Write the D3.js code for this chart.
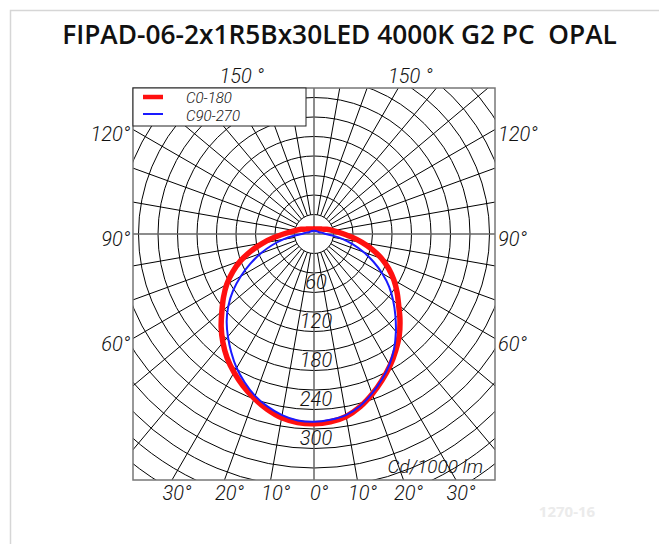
<!DOCTYPE html>
<html><head><meta charset="utf-8">
<script src="https://cdn.jsdelivr.net/npm/d3@7/dist/d3.min.js"></script>
<style>
body{margin:0;background:#fff}
svg{display:block}
.cad{font-family:Roboto,"DejaVu Sans",sans-serif;font-style:italic;font-weight:300;fill:#111}
</style>
</head><body><svg id="c" width="659" height="544"></svg>
<script>
const title = "FIPAD-06-2x1R5Bx30LED 4000K G2 PC  OPAL";
const watermark = "1270-16";
const seriesNames = ["C0-180", "C90-270"];
const unitLabel = "Cd/1000 lm";
// angles from nadir (degrees)
const angles = [0,5,10,15,20,25,30,35,40,45,50,55,60,65,70,75,80,85,90,100,110,120,130,140,150,160,170,180];
const c0Left   = [292,291,287,279,269,258,246,233,218,202,185,170,155,138,120,100,80,62,47,30,21,15,12,10,9,8,8,8];
const c0Right  = [292,290,285,275,262,248,234,219,204,187,170,156,142,127,111,93,75,59,46,30,21,15,12,10,9,8,8,8];
const c90Left  = [289,288,283,275,265,252,238,222,206,190,172,152,130,108,87,67,48,31,19,12,8,7,6,6,5,5,5,5];
const c90Right = [289,287,283,274,261,247,232,215,196,177,159,141,121,101,81,62,45,29,18,12,8,7,6,6,5,5,5,5];
const ringValues = [30,60,90,120,150,180,210,240,270,300,330,360,390,420,450,480];
const ringLabels = [60,120,180,240,300];
const spokeAngles = [0,10,20,30,40,50,60,70,80,90,100,110,120,130,140,150,160,170,180,190,200,210,220,230,240,250,260,270,280,290,300,310,320,330,340,350];
const sideAngleLabels = [60,90,120];
const topAngleLabels = [150];
const bottomAngleLabels = [-30,-20,-10,0,10,20,30];

const svg = d3.select("#c");
const cx = 314, cy = 234;
const box = {x0:133, x1:495, y0:88, y1:480};

// card frame
svg.append("rect").attr("x",10.5).attr("y",10.5).attr("width",700).attr("height",600)
  .attr("fill","none").attr("stroke","#d6d6d6").attr("stroke-width",1.5);

// title
const t = svg.append("text").attr("x",339.5).attr("y",44).attr("text-anchor","middle")
  .style("white-space","pre").attr("font-family","'Open Sans',Lato,sans-serif")
  .attr("font-weight",600).attr("font-size",22).attr("fill","#111").text(title);
const tl = t.node().getComputedTextLength();
t.attr("font-size", 22*555/tl);

const r = d3.scaleLinear().domain([0,30]).range([0,19.5]);

const defs = svg.append("defs");
defs.append("clipPath").attr("id","bx").append("rect")
  .attr("x",box.x0).attr("y",box.y0).attr("width",box.x1-box.x0).attr("height",box.y1-box.y0);

const g = svg.append("g").attr("clip-path","url(#bx)");
const p = g.append("g").attr("transform",`translate(${cx},${cy})`);

// rings
p.selectAll("circle.ring").data(ringValues).join("circle").attr("class","ring")
  .attr("r", d=>r(d)).attr("fill","none").attr("stroke","#000").attr("stroke-width",1);

// spokes (angle measured from nadir, screen)
const rad = d=>d*Math.PI/180;
p.selectAll("line.spoke").data(spokeAngles.filter(a=>a%90!==0)).join("line").attr("class","spoke")
  .attr("x1", a=>r(30)*Math.sin(rad(a))).attr("y1", a=>r(30)*Math.cos(rad(a)))
  .attr("x2", a=>r(600)*Math.sin(rad(a))).attr("y2", a=>r(600)*Math.cos(rad(a)))
  .attr("stroke","#000").attr("stroke-width",1);
// main axes
p.append("line").attr("x1",-400).attr("x2",400).attr("y1",0).attr("y2",0).attr("stroke","#666").attr("stroke-width",1.5);
p.append("line").attr("y1",-400).attr("y2",400).attr("x1",0).attr("x2",0).attr("stroke","#666").attr("stroke-width",1.5);

// curves
function pts(left, right){
  const out = [];
  for(let i=angles.length-1;i>=0;i--) out.push([Math.PI - rad(angles[i]), r(right[i])]);
  for(let i=1;i<angles.length-1;i++) out.push([Math.PI + rad(angles[i]), r(left[i])]);
  return out;
}
const line = d3.lineRadial().curve(d3.curveCatmullRomClosed.alpha(0.5));
p.append("path").attr("d", line(pts(c0Left,c0Right))).attr("fill","none")
  .attr("stroke","#ff1010").attr("stroke-width",5.5).attr("stroke-linejoin","round");
p.append("path").attr("d", line(pts(c90Left,c90Right))).attr("fill","none")
  .attr("stroke","#1a1aff").attr("stroke-width",2);

// ring value labels
p.selectAll("text.rl").data(ringLabels).join("text").attr("class","cad rl")
  .attr("x",2).attr("y",d=>r(d)+16).attr("text-anchor","middle").attr("font-size",20).text(d=>d);

// unit label
svg.append("text").attr("class","cad").attr("x",483).attr("y",473).attr("text-anchor","end")
  .attr("font-size",19).text(unitLabel);

// box border
svg.append("rect").attr("x",box.x0).attr("y",box.y0).attr("width",box.x1-box.x0).attr("height",box.y1-box.y0)
  .attr("fill","none").attr("stroke","#777").attr("stroke-width",1.5);

// legend
const lg = svg.append("g");
lg.append("rect").attr("x",box.x0).attr("y",box.y0).attr("width",173).attr("height",38)
  .attr("fill","#fff").attr("stroke","#222").attr("stroke-width",1);
lg.append("line").attr("x1",143).attr("x2",163).attr("y1",97).attr("y2",97).attr("stroke","#ff1010").attr("stroke-width",4.5);
lg.append("line").attr("x1",143).attr("x2",163).attr("y1",114).attr("y2",114).attr("stroke","#1a1aff").attr("stroke-width",2);
lg.selectAll("text").data(seriesNames).join("text").attr("class","cad")
  .attr("x",186).attr("y",(d,i)=>103+i*18).attr("font-size",15).text(d=>d);

// side labels
const halfW = box.x1 - cx;
sideAngleLabels.forEach(a=>{
  const y = cy + halfW*Math.cos(rad(a))/Math.sin(rad(a)) + 12;
  svg.append("text").attr("class","cad").attr("x",box.x0-3).attr("y",y).attr("text-anchor","end").attr("font-size",20).text(a+"°");
  svg.append("text").attr("class","cad").attr("x",box.x1+3).attr("y",y).attr("text-anchor","start").attr("font-size",20).text(a+"°");
});
// top labels
const topH = cy - box.y0;
topAngleLabels.forEach(a=>{
  const dx = topH*Math.tan(rad(180-a));
  [-1,1].forEach(s=>{
    svg.append("text").attr("class","cad").attr("x",cx+s*dx+12).attr("y",box.y0-5).attr("text-anchor","middle")
      .attr("font-size",20).style("white-space","pre").text(a+" °");
  });
});
// bottom labels
const botH = box.y1 - cy;
svg.selectAll("text.bl").data(bottomAngleLabels).join("text").attr("class","cad bl")
  .attr("x",a=>cx + botH*Math.tan(rad(a)) + 5).attr("y",500).attr("text-anchor","middle")
  .attr("font-size",20).text(a=>Math.abs(a)+"°");

// watermark
svg.append("text").attr("x",567).attr("y",517).attr("text-anchor","middle")
  .attr("font-family","'Open Sans',sans-serif").attr("font-weight",700).attr("font-size",15)
  .attr("fill","#ebebeb").text(watermark);
</script>
</body></html>
